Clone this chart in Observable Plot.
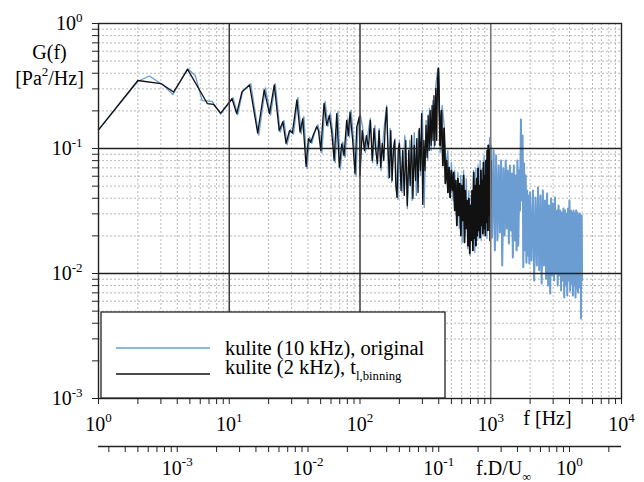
<!DOCTYPE html>
<html>
<head>
<meta charset="utf-8">
<script src="https://cdn.jsdelivr.net/npm/d3@7"></script>
<script src="https://cdn.jsdelivr.net/npm/@observablehq/plot@0.6"></script>
<style>
  html, body { margin: 0; padding: 0; background: #fff; }
  #chart svg { display: block; }
</style>
</head>
<body>
<div id="chart"></div>
<script>
// ---------- data: [frequency (Hz), G(f) (Pa^2/Hz)] ----------
const blackLow = [[1,0.141],[2,0.350],[3,0.331],[3.75,0.283],[4.8,0.429],[6.8,0.229],[7.6,0.225],[8.6,0.192],
  [10.5,0.250],[11.4,0.190],[12.5,0.283],[14.3,0.323],[16.5,0.133],[18.5,0.295],[20.3,0.190],[22.1,0.323],
  [24.1,0.139],[25.7,0.164],[27.2,0.110],[28.9,0.139],[30.4,0.133],[32.9,0.245],[34.8,0.135],[36.5,0.173],
  [38.7,0.0718],[40.3,0.120],[42,0.112],[44,0.129],[46.7,0.150],[48.1,0.139],[50.1,0.0964],[53.1,0.230],
  [55.7,0.153],[58.3,0.184],[60.8,0.135],[63.4,0.0802],[66.4,0.190],[69.5,0.0709],[72.5,0.109],[75.5,0.0879],
  [79.1,0.168],[81.4,0.127],[83.9,0.195],[87.9,0.116],[91.6,0.0628],[94.4,0.148],[98.8,0.180]];
const blackMid = [[100,0.0608],[104,0.139],[108,0.0964],[112,0.127],[116,0.100],[120,0.168],[124,0.0802],
  [128,0.145],[132,0.0964],[136,0.0759],[140,0.139],[144,0.0705],[148,0.110],[152,0.0802],[156,0.153],
  [160,0.213],[164,0.0964],[168,0.0586],[172,0.139],[176,0.0555],[180,0.0964],[184,0.116],[188,0.0506],
  [192,0.0406],[196,0.0964],[200,0.110],[206,0.0461],[212,0.0964],[218,0.0421],[224,0.116],[230,0.0350],
  [236,0.0964],[242,0.0506],[248,0.127],[254,0.0398],[260,0.106],[266,0.0555],[272,0.120],[278,0.0445],
  [284,0.145],[290,0.0667],[296,0.190],[302,0.0357],[308,0.116],[314,0.0667],[320,0.153],[326,0.0847],
  [332,0.184],[338,0.0964],[344,0.201],[350,0.106],[356,0.221],[362,0.116],[368,0.265],[374,0.106],
  [380,0.302],[386,0.116],[392,0.363],[398,0.437]];
const blackHigh = [[410,0.106],[420,0.201],[430,0.0731],[440,0.145],[450,0.0525],[460,0.0802],[470,0.0445],
  [480,0.0705],[490,0.0406],[500,0.0667],[510,0.0461],[520,0.0643],[530,0.0319],[540,0.0555],[550,0.0242],
  [560,0.0575],[570,0.0291],[580,0.0525],[590,0.0201],[600,0.0506],[610,0.0265],[620,0.0608],[630,0.0177],
  [640,0.0461],[650,0.0229],[660,0.0384],[670,0.0167],[680,0.0398],[690,0.0145],[700,0.0350],[710,0.0184],
  [720,0.0461],[730,0.0153],[740,0.0643],[750,0.0191],[760,0.0506],[770,0.0167],[780,0.0575],[790,0.0201],
  [800,0.0692],[810,0.0221],[820,0.0506],[830,0.0194],[840,0.0667],[850,0.0242],[860,0.0555],[870,0.0209],
  [880,0.0773],[890,0.0229],[900,0.0608],[910,0.0201],[920,0.0802],[930,0.0256],[940,0.0964],[950,0.0221],
  [960,0.106],[970,0.0291],[980,0.0964],[990,0.0184],[1000,0.0802]];

const blueLow = [[1,0.141],[2,0.345],[2.45,0.380],[3.15,0.319],[3.7,0.270],[4.8,0.436],[5.5,0.383],[6.2,0.242],
  [7.4,0.238],[8.6,0.188],[10.7,0.255],[11.6,0.186],[12.7,0.290],[14.6,0.330],[16.8,0.128],[18.9,0.305],
  [20.7,0.185],[22.5,0.330],[24.5,0.135],[26.2,0.168],[27.7,0.107],[29.4,0.142],[31,0.130],[33.5,0.255],
  [35.5,0.131],[37.2,0.180],[39.4,0.069],[41.1,0.123],[42.8,0.110],[44.9,0.133],[47.6,0.155],[49,0.136],
  [51.1,0.092],[54.1,0.238],[56.8,0.150],[59.4,0.192],[62,0.131],[64.6,0.077],[67.7,0.197],[70.8,0.068],
  [73.9,0.113],[77,0.085],[80.6,0.175],[83,0.123],[85.5,0.203],[89.6,0.112],[93.4,0.060],[96.2,0.154],[100.7,0.186]];
const blueMid = [[105,0.145],[110,0.0929],[115,0.132],[120,0.174],[125,0.0773],[130,0.153],[135,0.0731],
  [140,0.145],[145,0.0667],[150,0.116],[155,0.168],[160,0.221],[165,0.0575],[170,0.145],[175,0.0535],
  [180,0.100],[185,0.120],[190,0.0461],[195,0.0391],[200,0.116],[210,0.0445],[220,0.127],[230,0.0331],
  [240,0.116],[250,0.0384],[260,0.134],[270,0.0421],[280,0.139],[290,0.0608],[300,0.201],[310,0.0338],
  [320,0.168],[330,0.0802],[340,0.209],[350,0.0964],[360,0.242],[370,0.100],[380,0.319],[390,0.405],
  [397,0.445],[410,0.0929],[425,0.221],[440,0.153],[455,0.0731],[470,0.0964],[485,0.0406],[500,0.0773],
  [515,0.0384],[530,0.0667],[545,0.0291],[560,0.0643],[575,0.0229],[590,0.0608],[605,0.0177],[620,0.0667],
  [635,0.0201],[650,0.0575],[665,0.0158],[680,0.0461],[695,0.0139],[710,0.0421],[725,0.0167],[740,0.0667],
  [755,0.0147],[770,0.0692],[785,0.0184],[800,0.0731],[815,0.0191],[830,0.0802],[845,0.0184],[860,0.0692],
  [875,0.0201],[890,0.0879],[905,0.0213],[920,0.0802],[935,0.0191],[950,0.106],[965,0.0221],[980,0.122],[995,0.0184]];
const blueHigh = [[1000,0.106],[1025,0.0194],[1050,0.0964],[1075,0.0153],[1100,0.0879],[1125,0.0184],
  [1150,0.0731],[1175,0.0213],[1200,0.0802],[1225,0.0116],[1250,0.0692],[1275,0.0201],[1300,0.0802],
  [1325,0.0229],[1350,0.0667],[1375,0.0174],[1400,0.0731],[1425,0.0221],[1450,0.0631],[1475,0.0134],
  [1500,0.0731],[1525,0.0184],[1550,0.0608],[1575,0.0153],[1600,0.0802],[1625,0.0167],[1650,0.0667],
  [1675,0.0319],[1700,0.171],[1725,0.0384],[1750,0.127],[1775,0.0112],[1800,0.0759],[1825,0.0153],
  [1850,0.0608],[1875,0.0122],[1900,0.0461],[1925,0.0139],[1950,0.0421],[1975,0.0120],[2000,0.0445],
  [2050,0.0127],[2100,0.0461],[2150,0.00879],[2200,0.0406],[2250,0.0116],[2300,0.0488],[2350,0.0106],
  [2400,0.0421],[2450,0.00831],[2500,0.0461],[2550,0.0116],[2600,0.0384],[2650,0.00909],[2700,0.0437],
  [2750,0.00802],[2800,0.0350],[2850,0.00692],[2900,0.0398],[2950,0.00964],[3000,0.0363],[3050,0.00879],
  [3100,0.0406],[3150,0.0100],[3200,0.0319],[3250,0.00802],[3300,0.0350],[3350,0.00964],[3400,0.0319],
  [3450,0.00731],[3500,0.0308],[3550,0.00879],[3600,0.0331],[3650,0.00643],[3700,0.0319],[3750,0.00802],
  [3800,0.0302],[3850,0.00667],[3900,0.0331],[3950,0.00879],[4000,0.0384],[4050,0.00731],[4100,0.0319],
  [4150,0.00831],[4200,0.0308],[4250,0.00667],[4300,0.0319],[4350,0.00802],[4400,0.0302],[4450,0.00643],
  [4500,0.0319],[4550,0.00759],[4600,0.0308],[4650,0.00705],[4700,0.0291],[4750,0.00773],[4800,0.0302],
  [4850,0.0221],[4900,0.00436],[4950,0.0291],[5000,0.00879]];

// axes / labels
const xDecades = [1, 10, 100, 1000, 10000];
const yDecades = [0.001, 0.01, 0.1, 1];
const strouhalFactor = 4000;          // f.D/U_inf = f / 4000 Hz
const strouhalDecades = [0.001, 0.01, 0.1, 1];
const seriesNames = ["kulite (10 kHz), original", "kulite (2 kHz), t_{l,binning}"];
const seriesColors = ["#6b9dd2", "#111111"];
const yTitle = ["G(f)", "[Pa^{2}/Hz]"];
const xTitle = "f [Hz]";
const x2Title = "f.D/U_{\u221e}";

// ---------- build ----------
const toRows = arr => arr.map(([f, g]) => ({f, g}));
const blueData = toRows([...blueLow, ...blueMid, ...blueHigh]);
const blueDense = toRows(blueHigh);
const blackData = toRows([...blackLow, ...blackMid, ...blackHigh]);
const blackDense = toRows([blackMid[blackMid.length - 1], ...blackHigh]);

function minorsOf(decades, lo, hi) {
  const out = [];
  for (const d of decades) for (let k = 1; k <= 9; k++) {
    const v = +(d * k).toPrecision(6);
    if (v >= lo * 0.9999 && v <= hi * 1.0001) out.push(v);
  }
  return out;
}
const xAll = minorsOf(xDecades, 1, 10000);
const yAll = minorsOf(yDecades, 0.001, 1);
const isPow = v => Math.abs(Math.log10(v) - Math.round(Math.log10(v))) < 1e-6;
const xMinor = xAll.filter(v => !isPow(v));
const yMinor = yAll.filter(v => !isPow(v));
const sAll = minorsOf([0.0001, ...strouhalDecades], 1 / strouhalFactor, 10000 / strouhalFactor);
const sTicksHz = sAll.map(v => v * strouhalFactor);
const sMajorHz = strouhalDecades.map(v => v * strouhalFactor);
const fmtPow = v => isPow(v) ? `10^{${Math.round(Math.log10(v))}}` : "";

const FONT = "'Liberation Serif', 'Times New Roman', 'DejaVu Serif', serif";

const chart = Plot.plot({
  width: 644, height: 482,
  marginLeft: 98, marginRight: 23, marginTop: 23, marginBottom: 84,
  x: {type: "log", domain: [1, 10000]},
  y: {type: "log", domain: [0.001, 1]},
  style: {background: "#fff", color: "#000", fontFamily: FONT, fontSize: "20px", overflow: "visible"},
  marks: [
    Plot.ruleX(xMinor, {stroke: "#b8b8b8", strokeDasharray: "2,2", strokeWidth: 1}),
    Plot.ruleY(yMinor, {stroke: "#b8b8b8", strokeDasharray: "2,2", strokeWidth: 1}),
    Plot.line(blueData, {x: "f", y: "g", stroke: seriesColors[0], strokeWidth: 1.3}),
    Plot.line(blueDense, {x: "f", y: "g", stroke: seriesColors[0], strokeWidth: 1.9}),
    Plot.line(blackData, {x: "f", y: "g", stroke: seriesColors[1], strokeWidth: 1.3}),
    Plot.line(blackDense, {x: "f", y: "g", stroke: seriesColors[1], strokeWidth: 1.6}),
    Plot.ruleX([10, 100], {stroke: "#3a3a3a", strokeWidth: 1.5}),
    Plot.ruleX([1000], {stroke: "#777", strokeWidth: 1.6}),
    Plot.ruleY(yDecades.slice(1, -1), {stroke: "#222", strokeWidth: 1.4}),
    Plot.frame({stroke: "#222", strokeWidth: 1.4}),
    Plot.axisY({ticks: yAll, tickFormat: fmtPow, tickSize: 6, tickPadding: 10, fontSize: 20, label: null, stroke: "#222"}),
    Plot.axisX({anchor: "bottom", ticks: xAll, tickFormat: fmtPow, tickSize: 6, tickPadding: 12, fontSize: 20, label: null, stroke: "#222"}),
    // secondary (Strouhal) axis, 48 px below the frame
    Plot.ruleY([0.001], {dy: 48, stroke: "#222", strokeWidth: 1.3}),
    Plot.axisX({anchor: "bottom", ticks: sTicksHz, tickFormat: () => "", tickSize: 6, dy: 48, label: null, stroke: "#222"}),
    Plot.text(sMajorHz, {x: d => d, text: d => fmtPow(d / strouhalFactor), frameAnchor: "bottom", dy: 76, fontSize: 20}),
    Plot.text([yTitle[0]], {text: d => d, frameAnchor: "top-left", dx: -49, dy: 21, textAnchor: "middle", fontSize: 20}),
    Plot.text([yTitle[1]], {text: d => d, frameAnchor: "top-left", dx: -49, dy: 47, textAnchor: "middle", fontSize: 20}),
    Plot.text([xTitle], {text: d => d, frameAnchor: "bottom-right", dx: -74, dy: 26, textAnchor: "middle", fontSize: 20}),
    Plot.text([x2Title], {text: d => d, frameAnchor: "bottom-right", dx: -118, dy: 76, textAnchor: "middle", fontSize: 20})
  ]
});
document.getElementById("chart").appendChild(chart);

// ---------- legend ----------
const svg = d3.select(chart);
const lg = svg.append("g").attr("font-family", FONT).attr("font-size", 20.5).attr("text-anchor", "start");
lg.append("rect").attr("x", 101).attr("y", 312).attr("width", 344).attr("height", 86)
  .attr("fill", "#fff").attr("stroke", "#222").attr("stroke-width", 1.3);
seriesNames.forEach((name, i) => {
  const yy = 348 + i * 26;
  lg.append("line").attr("x1", 116).attr("x2", 210).attr("y1", yy).attr("y2", yy)
    .attr("stroke", seriesColors[i]).attr("stroke-width", 1.3);
  lg.append("text").attr("x", 225).attr("y", yy).attr("dy", "0.32em")
    .attr("text-anchor", "start").attr("fill", "#000").text(name);
});

// ---------- rich text: ^{sup} and _{sub} ----------
const NS = "http://www.w3.org/2000/svg";
svg.selectAll("text").each(function () {
  const s = this.textContent;
  if (!/[\^_]\{/.test(s)) return;
  const fs = parseFloat(this.getAttribute("font-size")) || parseFloat(getComputedStyle(this).fontSize) || 20;
  const re = /([\^_])\{([^}]*)\}|([^\^_]+)/g;
  let m, shift = 0;
  while (this.firstChild) this.removeChild(this.firstChild);
  while ((m = re.exec(s))) {
    const t = document.createElementNS(NS, "tspan");
    let target = 0, size = fs, txt = m[3];
    if (m[1] === "^") { target = -0.42 * fs; size = 0.65 * fs; txt = m[2]; }
    else if (m[1] === "_") { target = 0.3 * fs; size = 0.62 * fs; txt = m[2]; }
    t.setAttribute("dy", (target - shift).toFixed(2));
    t.setAttribute("font-size", size.toFixed(2));
    t.textContent = txt;
    shift = target;
    this.appendChild(t);
  }
});
</script>
</body>
</html>
